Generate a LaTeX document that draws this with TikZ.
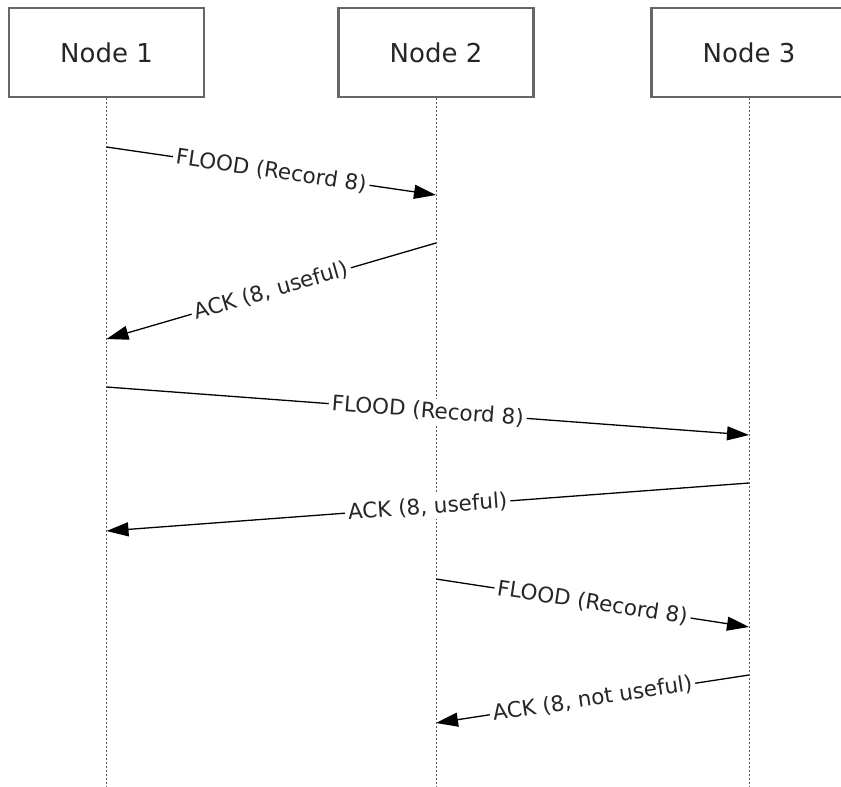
\documentclass[tikz,border=0pt]{standalone}
\usepackage{fontspec}
\setmainfont{DejaVu Sans}
\usetikzlibrary{arrows.meta}

\begin{document}
\begin{tikzpicture}[x=1pt,y=-1pt,
  actor/.style={draw=black!60,line width=2.4pt,minimum width=195pt,minimum height=89pt,inner sep=0pt,font=\fontsize{26}{30}\selectfont,text=black!85},
  life/.style={draw=black!65,line width=1pt,dash pattern=on 2pt off 2pt},
  msg/.style={-{Triangle[length=22pt,width=14pt]},line width=1.3pt},
  lbl/.style={midway,sloped,fill=white,inner sep=3pt,font=\fontsize{21.5}{25}\selectfont,text=black!85}]
\clip (0,0) rectangle (841,787);
\fill[white] (0,0) rectangle (841,787);
% the three nodes and their lifelines
\node[actor] (n1) at (106.5,52.5) {Node 1};
\node[actor] (n2) at (436,52.5) {Node 2};
\node[actor] (n3) at (749,52.5) {Node 3};
\coordinate (e1) at (106.5,790);
\coordinate (e2) at (436,790);
\coordinate (e3) at (749,790);
\draw[life] (n1.south) -- (e1);
\draw[life] (n2.south) -- (e2);
\draw[life] (n3.south) -- (e3);
% message ends
\coordinate (a1) at (n1 |- 0,147);
\coordinate (a2) at (n2 |- 0,195);
\coordinate (b2) at (n2 |- 0,243);
\coordinate (b1) at (n1 |- 0,339);
\coordinate (c1) at (n1 |- 0,387);
\coordinate (c3) at (n3 |- 0,435);
\coordinate (d3) at (n3 |- 0,483);
\coordinate (d1) at (n1 |- 0,531);
\coordinate (f2) at (n2 |- 0,579);
\coordinate (f3) at (n3 |- 0,627);
\coordinate (g3) at (n3 |- 0,675);
\coordinate (g2) at (n2 |- 0,723);
% messages
\draw[msg] (a1) -- node[lbl]{FLOOD (Record 8)} (a2);
\draw[msg] (b2) -- node[lbl]{ACK (8, useful)} (b1);
\draw[msg] (c1) -- node[lbl]{FLOOD (Record 8)} (c3);
\draw[msg] (d3) -- node[lbl]{ACK (8, useful)} (d1);
\draw[msg] (f2) -- node[lbl]{FLOOD (Record 8)} (f3);
\draw[msg] (g3) -- node[lbl]{ACK (8, not useful)} (g2);
\end{tikzpicture}
\end{document}
